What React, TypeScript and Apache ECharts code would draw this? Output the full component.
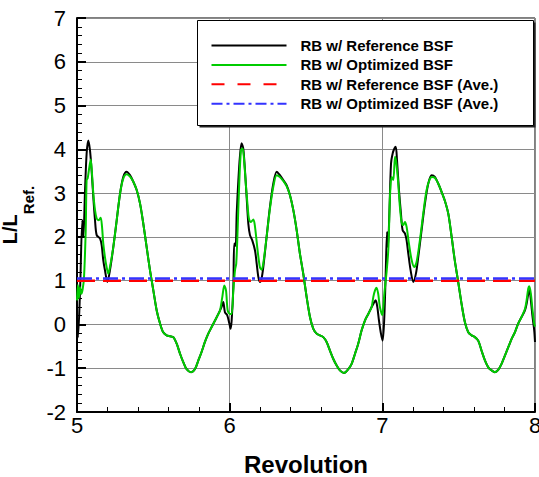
import React, { useEffect, useRef } from "react";
import * as echarts from "echarts";

// Revolution vs L/L_Ref. — RB w/ Reference BSF (black)
const referenceBSF: [number, number][] = [
  [5.000, 0.00], [5.006, -0.30], [5.020, 0.78], [5.035, 2.38], [5.042, 2.00], [5.052, 3.00], [5.063, 3.90], [5.074, 4.20],
  [5.085, 3.98], [5.096, 3.50], [5.107, 2.90], [5.118, 2.38], [5.129, 2.04], [5.151, 1.96], [5.162, 1.80], [5.172, 1.47],
  [5.183, 1.24], [5.199, 0.97], [5.216, 1.24], [5.238, 1.77], [5.260, 2.38], [5.282, 2.99], [5.303, 3.37], [5.325, 3.49],
  [5.347, 3.41], [5.369, 3.26], [5.391, 3.07], [5.413, 2.76], [5.434, 2.31], [5.456, 1.77], [5.478, 1.24], [5.500, 0.78],
  [5.522, 0.32], [5.544, 0.02], [5.565, -0.18], [5.587, -0.25], [5.609, -0.27], [5.631, -0.29], [5.653, -0.44], [5.675, -0.67],
  [5.696, -0.86], [5.718, -1.02], [5.747, -1.09], [5.773, -1.02], [5.795, -0.82], [5.816, -0.63], [5.838, -0.40], [5.860, -0.21],
  [5.882, -0.06], [5.904, 0.09], [5.926, 0.24], [5.947, 0.40], [5.958, 0.51], [5.969, 0.28], [5.984, 0.21], [5.998, 0.02],
  [6.006, -0.10], [6.013, 0.09], [6.024, 0.85], [6.030, 1.85], [6.039, 1.80], [6.046, 2.53], [6.057, 3.30], [6.067, 3.83],
  [6.078, 4.14], [6.089, 4.02], [6.100, 3.53], [6.111, 2.92], [6.122, 2.31], [6.133, 2.04], [6.148, 1.92], [6.166, 1.69],
  [6.177, 1.39], [6.188, 1.08], [6.198, 0.97], [6.209, 1.05], [6.220, 1.30], [6.242, 2.00], [6.264, 2.69], [6.286, 3.22],
  [6.308, 3.49], [6.329, 3.41], [6.351, 3.30], [6.373, 3.18], [6.395, 2.95], [6.417, 2.61], [6.439, 2.15], [6.460, 1.62],
  [6.482, 1.16], [6.504, 0.63], [6.526, 0.17], [6.548, -0.10], [6.570, -0.21], [6.591, -0.25], [6.613, -0.29], [6.635, -0.40],
  [6.657, -0.60], [6.679, -0.79], [6.701, -0.94], [6.722, -1.05], [6.749, -1.11], [6.777, -1.02], [6.799, -0.90], [6.821, -0.67],
  [6.842, -0.44], [6.864, -0.14], [6.886, 0.09], [6.908, 0.24], [6.930, 0.40], [6.941, 0.47], [6.956, 0.55], [6.967, 0.40],
  [6.978, 0.09], [6.991, -0.21], [7.002, -0.37], [7.013, 0.17], [7.022, 1.16], [7.031, 2.11], [7.037, 1.77], [7.046, 2.53],
  [7.057, 3.68], [7.068, 3.91], [7.079, 4.02], [7.088, 4.06], [7.096, 3.76], [7.109, 3.07], [7.122, 2.53], [7.133, 2.15],
  [7.148, 2.08], [7.159, 1.92], [7.170, 1.62], [7.185, 1.24], [7.203, 0.97], [7.220, 1.16], [7.235, 1.53], [7.257, 2.15],
  [7.279, 2.76], [7.301, 3.22], [7.323, 3.41], [7.344, 3.37], [7.366, 3.22], [7.388, 3.03], [7.410, 2.82], [7.432, 2.53],
  [7.454, 2.00], [7.475, 1.45], [7.497, 0.97], [7.519, 0.47], [7.541, 0.05], [7.563, -0.18], [7.585, -0.25], [7.606, -0.29],
  [7.628, -0.37], [7.650, -0.60], [7.672, -0.82], [7.694, -0.98], [7.716, -1.05], [7.737, -1.09], [7.759, -1.04], [7.781, -0.90],
  [7.803, -0.71], [7.825, -0.52], [7.847, -0.33], [7.868, -0.18], [7.890, 0.02], [7.912, 0.17], [7.934, 0.32], [7.945, 0.47],
  [7.956, 0.70], [7.964, 0.78], [7.973, 0.55], [7.984, 0.17], [7.995, -0.14], [8.000, -0.40],
];

// RB w/ Optimized BSF (green)
const optimizedBSF: [number, number][] = [
  [5.000, 0.55], [5.006, 0.90], [5.012, 0.60], [5.020, 0.85], [5.028, 0.70], [5.037, 0.80], [5.046, 1.08], [5.057, 2.15],
  [5.063, 3.30], [5.070, 3.34], [5.079, 3.55], [5.090, 3.77], [5.098, 3.45], [5.107, 2.99], [5.118, 2.61], [5.129, 2.42],
  [5.142, 2.38], [5.155, 2.44], [5.164, 2.23], [5.172, 1.85], [5.183, 1.54], [5.194, 1.31], [5.205, 1.16], [5.216, 1.31],
  [5.238, 1.77], [5.260, 2.38], [5.282, 2.99], [5.303, 3.33], [5.325, 3.43], [5.347, 3.38], [5.369, 3.26], [5.391, 3.07],
  [5.413, 2.76], [5.434, 2.31], [5.456, 1.77], [5.478, 1.24], [5.500, 0.78], [5.522, 0.32], [5.544, 0.02], [5.565, -0.18],
  [5.587, -0.25], [5.609, -0.27], [5.631, -0.29], [5.653, -0.44], [5.675, -0.67], [5.696, -0.86], [5.718, -1.02], [5.747, -1.09],
  [5.773, -1.02], [5.795, -0.82], [5.816, -0.63], [5.838, -0.40], [5.860, -0.21], [5.882, -0.06], [5.904, 0.09], [5.926, 0.24],
  [5.937, 0.32], [5.952, 0.63], [5.965, 0.89], [5.976, 0.78], [5.987, 0.32], [6.002, 0.24], [6.013, 0.24], [6.024, 0.78],
  [6.035, 1.24], [6.043, 1.39], [6.052, 2.15], [6.061, 3.07], [6.074, 3.98], [6.085, 4.02], [6.096, 3.68], [6.107, 3.15],
  [6.118, 2.69], [6.126, 2.42], [6.139, 2.34], [6.155, 2.40], [6.166, 2.23], [6.183, 1.69], [6.198, 1.31], [6.209, 1.25],
  [6.220, 1.39], [6.242, 2.00], [6.264, 2.65], [6.286, 3.15], [6.308, 3.41], [6.329, 3.37], [6.351, 3.28], [6.373, 3.16],
  [6.395, 2.95], [6.417, 2.61], [6.439, 2.15], [6.460, 1.62], [6.482, 1.16], [6.504, 0.63], [6.526, 0.17], [6.548, -0.10],
  [6.570, -0.21], [6.591, -0.25], [6.613, -0.29], [6.635, -0.40], [6.657, -0.60], [6.679, -0.79], [6.701, -0.94], [6.722, -1.05],
  [6.749, -1.11], [6.777, -1.02], [6.799, -0.90], [6.821, -0.67], [6.842, -0.44], [6.864, -0.14], [6.886, 0.09], [6.908, 0.24],
  [6.930, 0.40], [6.941, 0.63], [6.952, 0.78], [6.962, 0.84], [6.973, 0.70], [6.984, 0.40], [7.000, 0.21], [7.013, 0.70],
  [7.029, 1.24], [7.040, 1.77], [7.050, 2.92], [7.061, 3.37], [7.072, 3.30], [7.083, 3.83], [7.092, 3.68], [7.104, 3.23],
  [7.115, 2.69], [7.126, 2.34], [7.137, 2.27], [7.148, 2.34], [7.159, 2.23], [7.174, 1.85], [7.192, 1.47], [7.209, 1.31],
  [7.224, 1.42], [7.246, 1.92], [7.268, 2.53], [7.290, 3.07], [7.312, 3.33], [7.327, 3.37], [7.344, 3.35], [7.366, 3.22],
  [7.388, 3.03], [7.410, 2.82], [7.432, 2.53], [7.454, 2.00], [7.475, 1.45], [7.497, 0.97], [7.519, 0.47], [7.541, 0.05],
  [7.563, -0.18], [7.585, -0.25], [7.606, -0.29], [7.628, -0.37], [7.650, -0.60], [7.672, -0.82], [7.694, -0.98], [7.716, -1.05],
  [7.737, -1.09], [7.759, -1.04], [7.781, -0.90], [7.803, -0.71], [7.825, -0.52], [7.847, -0.33], [7.868, -0.18], [7.890, 0.02],
  [7.912, 0.17], [7.934, 0.35], [7.945, 0.55], [7.956, 0.82], [7.962, 0.87], [7.973, 0.70], [7.984, 0.32], [7.995, 0.02],
  [8.000, -0.05],
];

// Averages
const averageRange: number[] = [5, 8];
const referenceAverage = 1.0;
const optimizedAverage = 1.05;

const seriesNames: string[] = [
  "RB w/ Reference BSF",
  "RB w/ Optimized BSF",
  "RB w/ Reference BSF (Ave.)",
  "RB w/ Optimized BSF (Ave.)",
];

const xTicks: number[] = [5, 6, 7, 8];
const yTicks: number[] = [-2, -1, 0, 1, 2, 3, 4, 5, 6, 7];

const FONT = "'Liberation Sans', Arial, Helvetica, sans-serif";

export default function App() {
  const ref = useRef<HTMLDivElement>(null);

  useEffect(() => {
    if (!ref.current) return;
    const chart = echarts.init(ref.current, null, { renderer: "svg" });

    const axisCommon = {
      axisLine: { show: true, onZero: false, lineStyle: { color: "#000", width: 2 } },
      axisTick: { show: true, inside: true, length: 9, lineStyle: { color: "#000", width: 2 } },
      minorTick: { show: true, splitNumber: 5, length: 5, lineStyle: { color: "#000", width: 1 } },
      splitLine: { show: true, lineStyle: { color: "#8a8a8a", width: 1 } },
      axisLabel: { color: "#000", fontSize: 22, fontFamily: FONT },
    };

    chart.setOption({
      animation: false,
      backgroundColor: "#fff",
      grid: {
        left: 77,
        right: 4,
        top: 18,
        bottom: 65,
        show: true,
        borderColor: "#000",
        borderWidth: 1,
        containLabel: false,
        outerBoundsMode: "none",
      },
      xAxis: {
        type: "value",
        min: xTicks[0],
        max: xTicks[xTicks.length - 1],
        interval: 1,
        name: "Revolution",
        nameLocation: "middle",
        nameGap: 40,
        nameTextStyle: { fontSize: 24, fontWeight: "bold", color: "#000", fontFamily: FONT },
        ...axisCommon,
        axisLabel: { ...axisCommon.axisLabel, margin: 2 },
      },
      yAxis: {
        type: "value",
        min: yTicks[0],
        max: yTicks[yTicks.length - 1],
        interval: 1,
        name: "{m|L/L}{s|Ref.}",
        nameLocation: "middle",
        nameRotate: 90,
        nameGap: 38,
        nameTextStyle: {
          color: "#000",
          fontFamily: FONT,
          rich: {
            m: { fontSize: 20, fontWeight: "bold", fontFamily: FONT, color: "#000", verticalAlign: "top", lineHeight: 20 },
            s: { fontSize: 15, fontWeight: "bold", fontFamily: FONT, color: "#000", verticalAlign: "bottom", lineHeight: 36 },
          },
        },
        ...axisCommon,
        axisLabel: { ...axisCommon.axisLabel, margin: 11 },
      },
      legend: {
        data: [
          { name: seriesNames[0] },
          { name: seriesNames[1] },
          { name: seriesNames[2], lineStyle: { type: [13, 13] } },
          { name: seriesNames[3], lineStyle: { type: [11, 4, 3, 4] } },
        ],
        orient: "vertical",
        left: 197,
        top: 20,
        padding: [18, 10, 10, 13.5],
        itemGap: 4.4,
        itemWidth: 75,
        itemHeight: 16,
        selectedMode: false,
        z: 10,
        itemStyle: { opacity: 0, borderWidth: 0 },
        textStyle: {
          fontSize: 15,
          fontWeight: "bold",
          color: "#000",
          fontFamily: FONT,
          padding: [0, 0, 0, 9],
        },
      },
      graphic: [
        {
          type: "rect",
          z: 8,
          shape: { x: 199.5, y: 22.5, width: 336, height: 105 },
          style: { fill: "#222" },
        },
        {
          type: "rect",
          z: 9,
          shape: { x: 197.5, y: 20.5, width: 336, height: 105 },
          style: { fill: "#fff", stroke: "#000", lineWidth: 1 },
        },
      ],
      series: [
        {
          name: seriesNames[0],
          type: "line",
          data: referenceBSF,
          symbol: "none",
          smooth: 0.3,
          z: 2,
          lineStyle: { color: "#000", width: 2 },
          itemStyle: { color: "#000" },
        },
        {
          name: seriesNames[1],
          type: "line",
          data: optimizedBSF,
          symbol: "none",
          smooth: 0.3,
          z: 3,
          lineStyle: { color: "#00cc00", width: 2 },
          itemStyle: { color: "#00cc00" },
        },
        {
          name: seriesNames[2],
          type: "line",
          data: averageRange.map((x) => [x, referenceAverage]),
          symbol: "none",
          z: 4,
          lineStyle: { color: "#ff0000", width: 2.5, type: [18, 8] },
          itemStyle: { color: "#ff0000" },
        },
        {
          name: seriesNames[3],
          type: "line",
          data: averageRange.map((x) => [x, optimizedAverage]),
          symbol: "none",
          z: 5,
          lineStyle: { color: "#3333ff", width: 2.5, type: [15, 4, 3, 4] },
          itemStyle: { color: "#3333ff" },
        },
      ],
    });

    return () => chart.dispose();
  }, []);

  return (
    <div
      ref={ref}
      style={{ position: "fixed", left: 0, top: 0, width: 539, height: 477, background: "#fff" }}
    />
  );
}
